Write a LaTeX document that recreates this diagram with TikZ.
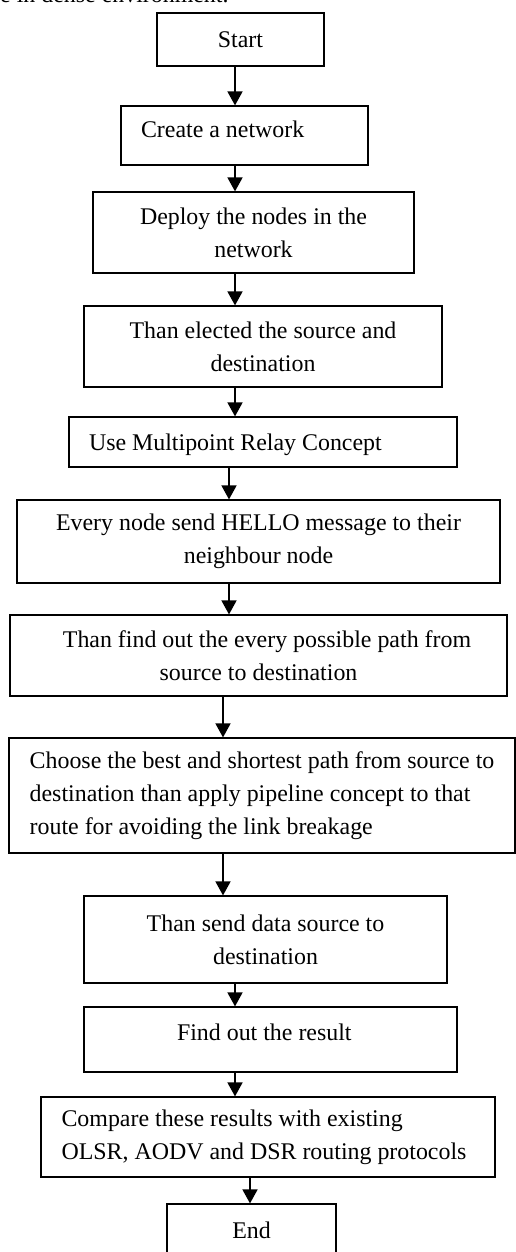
\documentclass[tikz,border=0pt]{standalone}
\usepackage{fontspec}
\setmainfont{Liberation Serif}
\usetikzlibrary{arrows.meta}
\begin{document}
\begin{tikzpicture}[x=1pt,y=-1pt,
  box/.style={draw,line width=1.2pt,rectangle,inner sep=0pt,align=center,
    font=\fontsize{23.9}{33}\selectfont},
  flow/.style={line width=1.6pt,-{Triangle[width=15pt,length=14pt]}},
  plain/.style={inner sep=0pt,font=\fontsize{23.9}{33}\selectfont}]
\useasboundingbox (0,0) rectangle (516,1252);

\node[plain,anchor=base west] (top) at (0,3) {e in dense environment.};

\node[box,minimum width=167pt,minimum height=53pt] (b1) at (240.5,39.5) {Start};
\node[box,minimum width=247pt,minimum height=59pt,text height=16pt,text depth=11pt]
  (b2) at (244.5,135.5) {\makebox[207pt][l]{Create a network}};
\node[box,minimum width=321pt,minimum height=81pt] (b3) at (253.5,232.5)
  {Deploy the nodes in the\\network};
\node[box,minimum width=358pt,minimum height=81pt] (b4) at (263,346.5)
  {Than elected the source and\\destination};
\node[box,minimum width=388pt,minimum height=50pt,text height=16pt,text depth=0pt]
  (b5) at (263,442) {\makebox[348pt][l]{Use Multipoint Relay Concept}};
\node[box,minimum width=483pt,minimum height=83pt] (b6) at (258.5,541.5)
  {Every node send HELLO message to their\\neighbour node};
\node[box,minimum width=497pt,minimum height=81pt] (b7) at (258.5,655.5)
  {\hspace*{17pt}Than find out the every possible path from\\source to destination};
\node[box,minimum width=506pt,minimum height=115pt,align=left] (b8) at (262,795.5)
  {Choose the best and shortest path from source to\\destination than apply pipeline concept to that\\route for avoiding the link breakage};
\node[box,minimum width=363pt,minimum height=87pt] (b9) at (265.5,939.5)
  {Than send data source to\\destination};
\node[box,minimum width=373pt,minimum height=65pt,text height=16pt,text depth=14pt]
  (b10) at (270.5,1039.5) {\makebox[187pt][l]{Find out the result}};
\node[box,minimum width=454pt,minimum height=80pt,align=left] (b11) at (268,1137)
  {Compare these results with existing\\OLSR, AODV and DSR routing protocols\hspace*{8pt}};
\node[box,minimum width=169pt,minimum height=52pt,text height=16pt,text depth=0pt]
  (b12) at (251.5,1230) {End};

\draw[flow] (235,0 |- b1.south) -- (235,0 |- b2.north);
\draw[flow] (235,0 |- b2.south) -- (235,0 |- b3.north);
\draw[flow] (235,0 |- b3.south) -- (235,0 |- b4.north);
\draw[flow] (235,0 |- b4.south) -- (235,0 |- b5.north);
\draw[flow] (229,0 |- b5.south) -- (229,0 |- b6.north);
\draw[flow] (229,0 |- b6.south) -- (229,0 |- b7.north);
\draw[flow] (223,0 |- b7.south) -- (223,0 |- b8.north);
\draw[flow] (223,0 |- b8.south) -- (223,0 |- b9.north);
\draw[flow] (235,0 |- b9.south) -- (235,0 |- b10.north);
\draw[flow] (235,0 |- b10.south) -- (235,0 |- b11.north);
\draw[flow] (250,0 |- b11.south) -- (250,0 |- b12.north);
\end{tikzpicture}
\end{document}
